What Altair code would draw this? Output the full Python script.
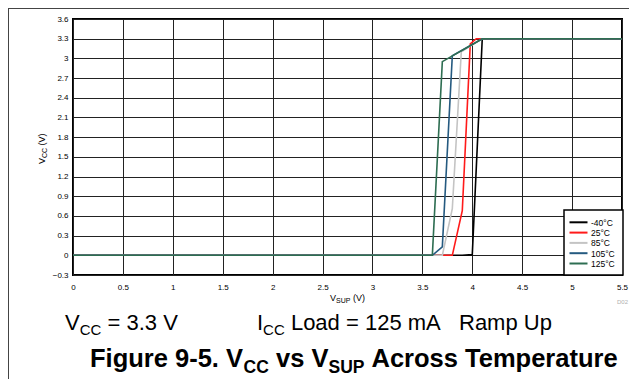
import altair as alt
import pandas as pd

# ---------------- data ----------------
series_names = ["-40°C", "25°C", "85°C", "105°C", "125°C"]
series_colors = ["#000000", "#ff1a1a", "#c4c4c4", "#255a80", "#2e6e52"]

vsup_m40 = [0, 3.9, 4.0, 4.1, 5.5]
vcc_m40 = [0, 0, 0.01, 3.3, 3.3]
vsup_25 = [0, 3.8, 3.9, 3.98, 4.04, 5.5]
vcc_25 = [0, 0, 0.68, 3.22, 3.3, 3.3]
vsup_85 = [0, 3.7, 3.8, 3.89, 4.1, 5.5]
vcc_85 = [0, 0, 0.71, 3.1, 3.3, 3.3]
vsup_105 = [0, 3.6, 3.7, 3.8, 4.1, 5.5]
vcc_105 = [0, 0, 0.13, 3.04, 3.3, 3.3]
vsup_125 = [0, 3.6, 3.7, 4.1, 5.5]
vcc_125 = [0, 0, 2.95, 3.3, 3.3]

x_ticks = [0, 0.5, 1, 1.5, 2, 2.5, 3, 3.5, 4, 4.5, 5, 5.5]
y_ticks = [-0.3, 0, 0.3, 0.6, 0.9, 1.2, 1.5, 1.8, 2.1, 2.4, 2.7, 3, 3.3, 3.6]

all_x = [vsup_m40, vsup_25, vsup_85, vsup_105, vsup_125]
all_y = [vcc_m40, vcc_25, vcc_85, vcc_105, vcc_125]

rows = []
for name, xs, ys in zip(series_names, all_x, all_y):
    for i, (a, b) in enumerate(zip(xs, ys)):
        rows.append({"series": name, "idx": i, "vsup": a, "vcc": b})
df = pd.DataFrame(rows)

FONT = "Liberation Sans"
W, H = 549, 256
PAD = {"left": 65, "top": 11, "right": 7, "bottom": 104}

lines = alt.Chart(df).mark_line(strokeWidth=1.6).encode(
    x=alt.X("vsup:Q", scale=alt.Scale(domain=[0, 5.5], nice=False, zero=False),
            axis=alt.Axis(values=x_ticks, format=".1~f", title=None, ticks=False,
                          domain=False, labelPadding=8, labelFontSize=8,
                          labelFont=FONT, labelColor="black", gridColor="#222",
                          gridWidth=1, labelFlush=False)),
    y=alt.Y("vcc:Q", scale=alt.Scale(domain=[-0.3, 3.6], nice=False, zero=False),
            axis=alt.Axis(values=y_ticks, format=".1~f", title=None, ticks=False,
                          domain=False, labelPadding=5, labelFontSize=8,
                          labelFont=FONT, labelColor="black", gridColor="#222",
                          gridWidth=1, labelFlush=False)),
    color=alt.Color("series:N", sort=series_names,
                    scale=alt.Scale(domain=series_names, range=series_colors),
                    legend=None),
    order="idx:Q",
)

one = pd.DataFrame({"a": [0]})


def txt(s, x, y, size, bold=False, angle=0, color="black"):
    kw = dict(text=s, fontSize=size, font=FONT, align="left", baseline="alphabetic",
              color=color, fontWeight="bold" if bold else "normal")
    if angle:
        kw["angle"] = angle
    return alt.Chart(one).mark_text(**kw).encode(x=alt.value(x), y=alt.value(y))


texts = [
    # y axis title (rotated)
    txt("V", -28, 145, 9, angle=270),
    txt("CC", -26, 139, 7, angle=270),
    txt("(V)", -28, 126.5, 9, angle=270),
    # x axis title
    txt("V", 257, 282, 9),
    txt("SUP", 263, 284, 7),
    txt("(V)", 280, 282, 9),
    # code
    txt("D02", W - 5, 285, 6, color="#b0b0b0"),
    # caption
    txt("V", -8, 311, 22),
    txt("CC", 6.7, 316, 15),
    txt("= 3.3 V", 34.5, 311, 22),
    txt("I", 184, 311, 22),
    txt("CC", 190.1, 316, 15),
    txt("Load = 125 mA", 217.9, 311, 22),
    txt("Ramp Up", 386, 311, 22),
    # figure title
    txt("Figure 9-5. V", 17, 348, 25.5, bold=True),
    txt("CC", 170.5, 354, 17.5, bold=True),
    txt("vs V", 203, 348, 25.5, bold=True),
    txt("SUP", 255.5, 354, 17.5, bold=True),
    txt("Across Temperature", 298.5, 348, 25.5, bold=True),
]

# legend (box, sample strokes and labels)
legend_box = alt.Chart(one).mark_rect(fill="white", stroke="black", strokeWidth=1.5).encode(
    x=alt.value(W - 58), x2=alt.value(W + 1), y=alt.value(191), y2=alt.value(H))
legend_parts = [legend_box]
for k, (name, col) in enumerate(zip(series_names, series_colors)):
    yy = 203.3 + 10.3 * k
    legend_parts.append(
        alt.Chart(one).mark_rule(color=col, strokeWidth=2).encode(
            x=alt.value(W - 52.5), x2=alt.value(W - 34.5), y=alt.value(yy)))
    legend_parts.append(
        alt.Chart(one).mark_text(text=name, fontSize=8.5, font=FONT, align="left",
                                 baseline="middle", color="black").encode(
            x=alt.value(W - 31), y=alt.value(yy + 0.5)))

border_top = alt.Chart(one).mark_rule(color="#444", strokeWidth=1).encode(
    x=alt.value(-PAD["left"]), x2=alt.value(W + PAD["right"]), y=alt.value(-PAD["top"] + 0.5))
border_left = alt.Chart(one).mark_rule(color="#444", strokeWidth=1).encode(
    x=alt.value(-PAD["left"] + 0.5), y=alt.value(-PAD["top"]), y2=alt.value(H + PAD["bottom"]))

chart = alt.layer(border_top, border_left, lines, *legend_parts, *texts).properties(
    width=W, height=H,
    autosize=alt.AutoSizeParams(type="none"),
    padding=PAD,
    background="white",
).configure_view(stroke="black", strokeWidth=2)

chart.save("out.html", embed_options={"renderer": "svg", "actions": False})
